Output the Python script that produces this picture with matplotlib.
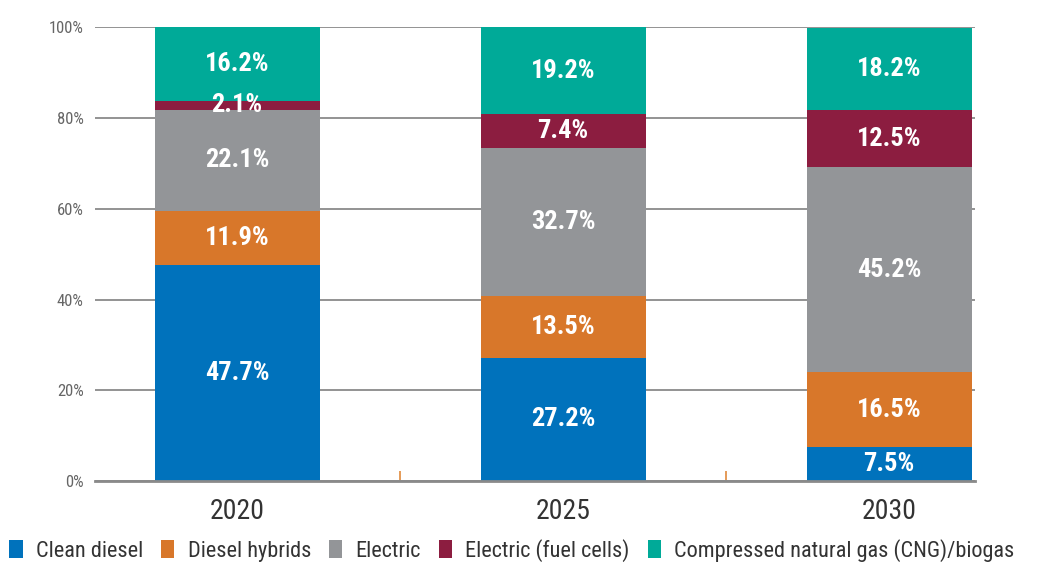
import matplotlib.pyplot as plt
import numpy as np
from matplotlib.patches import Patch
from matplotlib.ticker import FixedLocator

plt.rcParams['font.family'] = ['Roboto Condensed', 'Liberation Sans Narrow', 'DejaVu Sans']

# data
years = ['2020', '2025', '2030']
series = ['Clean diesel', 'Diesel hybrids', 'Electric', 'Electric (fuel cells)',
          'Compressed natural gas (CNG)/biogas']
clean_diesel = [47.7, 27.2, 7.5]
diesel_hybrids = [11.9, 13.5, 16.5]
electric = [22.1, 32.7, 45.2]
fuel_cells = [2.1, 7.4, 12.5]
cng_biogas = [16.2, 19.2, 18.2]

values = [clean_diesel, diesel_hybrids, electric, fuel_cells, cng_biogas]
colors = ['#0072BC', '#D8772A', '#939598', '#8C1D40', '#00AA98']

fig = plt.figure(figsize=(10.43, 5.66), dpi=100)
ax = fig.add_axes([0.091, 0.150, 0.844, 0.802])

x = np.arange(len(years))
bottom = np.zeros(len(years))
for vals, col in zip(values, colors):
    vals = np.array(vals)
    ax.bar(x, vals, width=0.506, bottom=bottom, color=col, zorder=2)
    for xi, b, v in zip(x, bottom, vals):
        ax.text(xi, b + v / 2, f'{v:.1f}%', ha='center', va='center',
                color='white', fontsize=19, fontweight='bold', zorder=3)
    bottom += vals

ax.set_xlim(-0.436, 2.264)
ax.set_ylim(0, 100)
ax.set_yticks(np.arange(0, 101, 20))
ax.set_yticklabels([f'{t}%' for t in range(0, 101, 20)], color='#666666', fontsize=12)
ax.yaxis.grid(True, color='#8a8a8a', linewidth=1.3, zorder=0)
ax.tick_params(axis='y', length=0, pad=8)

ax.set_xticks(x)
ax.set_xticklabels(years, fontsize=20, color='#333333')
ax.tick_params(axis='x', length=0, pad=12)
ax.xaxis.set_minor_locator(FixedLocator([0.5, 1.5]))
ax.tick_params(axis='x', which='minor', direction='in', length=7, width=1.2, color='#E08A3C')

for s in ['top', 'right', 'left']:
    ax.spines[s].set_visible(False)
ax.spines['bottom'].set_color('#8a8a8a')
ax.spines['bottom'].set_linewidth(2)
ax.spines['bottom'].set_zorder(4)

handles = [Patch(facecolor=c, label=s) for c, s in zip(colors, series)]
fig.legend(handles=handles, loc='center left', bbox_to_anchor=(0.009, 0.028), ncol=5,
           frameon=False, fontsize=16, handlelength=0.6, handleheight=0.9,
           handletextpad=0.6, columnspacing=0.8, borderpad=0, borderaxespad=0,
           labelcolor='#333333')

fig.savefig('out.png', dpi=100)
